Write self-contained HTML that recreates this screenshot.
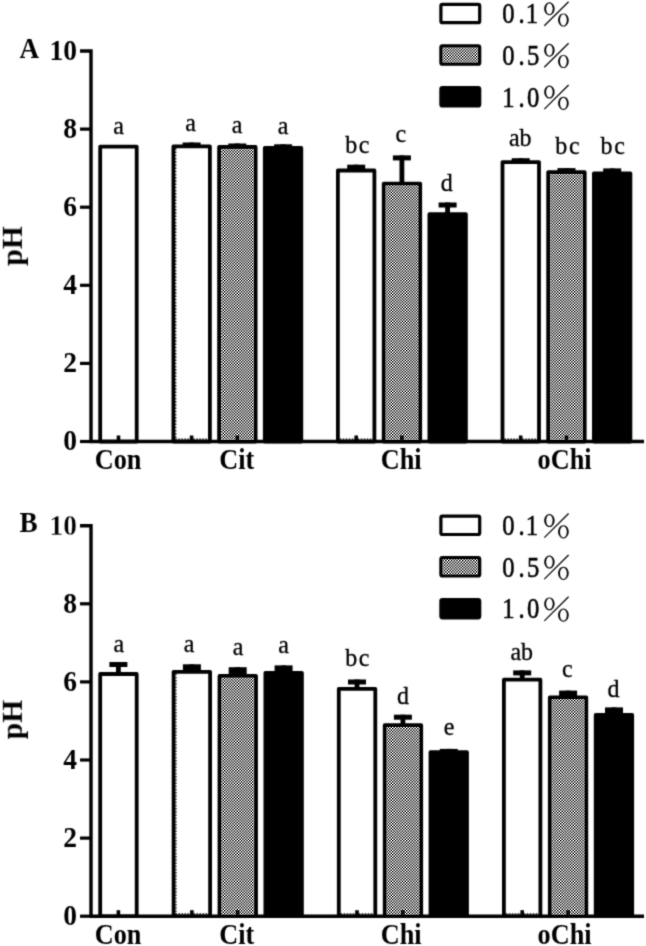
<!DOCTYPE html>
<html><head><meta charset="utf-8"><style>
html,body{margin:0;padding:0;background:#fff;}
svg{filter:grayscale(1);}
svg{display:block;}
text{font-family:"Liberation Serif",serif;fill:#000;}
.tk{font-size:27.5px;font-weight:bold;}
.cat{font-size:26px;font-weight:bold;}
.pl{font-size:28px;font-weight:bold;}
.ph{font-size:29.5px;font-weight:bold;}
.sig{font-size:24px;stroke:#000;stroke-width:0.3px;}
.lg{font-size:28px;stroke:#000;stroke-width:0.55px;}
.pc{font-size:33px;}
</style></head><body>
<svg width="646" height="946" viewBox="0 0 646 946">
<defs>
<filter id="bl" x="0" y="0" width="646" height="946" filterUnits="userSpaceOnUse" color-interpolation-filters="sRGB"><feConvolveMatrix order="3" kernelMatrix="1 4 1 4 16 4 1 4 1" divisor="36" edgeMode="duplicate"/></filter>
<pattern id="pat" width="2.8" height="2.8" patternUnits="userSpaceOnUse">
<rect width="2.8" height="2.8" fill="#f2f2f2"/>
<rect width="1.4" height="1.4" fill="#222"/>
<rect x="1.4" y="1.4" width="1.4" height="1.4" fill="#222"/>
</pattern>
</defs>
<rect width="646" height="946" fill="#fff"/>
<g filter="url(#bl)">
<rect width="646" height="946" fill="#fff"/>
<path d="M80 51.0 H91.0 V441.5 M89.5 441.5 H644" stroke="#000" stroke-width="3.4" fill="none"/>
<line x1="80" y1="441.5" x2="91.0" y2="441.5" stroke="#000" stroke-width="3.2"/>
<line x1="80" y1="363.4" x2="91.0" y2="363.4" stroke="#000" stroke-width="3.2"/>
<line x1="80" y1="285.3" x2="91.0" y2="285.3" stroke="#000" stroke-width="3.2"/>
<line x1="80" y1="207.2" x2="91.0" y2="207.2" stroke="#000" stroke-width="3.2"/>
<line x1="80" y1="129.1" x2="91.0" y2="129.1" stroke="#000" stroke-width="3.2"/>
<text transform="translate(77 450.30) scale(1 1.06)" text-anchor="end" class="tk">0</text>
<text transform="translate(77 372.20) scale(1 1.06)" text-anchor="end" class="tk">2</text>
<text transform="translate(77 294.10) scale(1 1.06)" text-anchor="end" class="tk">4</text>
<text transform="translate(77 216.00) scale(1 1.06)" text-anchor="end" class="tk">6</text>
<text transform="translate(77 137.90) scale(1 1.06)" text-anchor="end" class="tk">8</text>
<text transform="translate(77 59.80) scale(1 1.06)" text-anchor="end" class="tk">10</text>
<rect x="100.2" y="146.6" width="36.5" height="294.9" fill="#fff" stroke="#000" stroke-width="3.8" stroke-linejoin="round"/>
<rect x="116.7" y="435.5" width="3.6" height="6" fill="#000"/>
<rect x="173.4" y="146.4" width="36.5" height="295.1" fill="#fff" stroke="#000" stroke-width="3.8" stroke-linejoin="round"/>
<line x1="175.3" y1="439.1" x2="208.0" y2="439.1" stroke="#000" stroke-width="1.2" stroke-dasharray="1.5 1.5"/>
<line x1="175.8" y1="148.3" x2="175.8" y2="440.0" stroke="#000" stroke-width="1.1" stroke-dasharray="1.6 1.6"/>
<rect x="189.8" y="435.5" width="3.6" height="6" fill="#000"/>
<rect x="182.6" y="142.5" width="18" height="3.0" fill="#000"/>
<rect x="189.2" y="142.5" width="4.8" height="3.9" fill="#000"/>
<rect x="219.1" y="147.0" width="36.5" height="294.5" fill="url(#pat)" stroke="#000" stroke-width="3.8" stroke-linejoin="round"/>
<rect x="235.5" y="435.5" width="3.6" height="6" fill="#000"/>
<rect x="228.3" y="143.5" width="18" height="2.6" fill="#000"/>
<rect x="234.9" y="143.5" width="4.8" height="3.5" fill="#000"/>
<rect x="264.8" y="148.0" width="36.5" height="293.5" fill="#000" stroke="#000" stroke-width="3.8" stroke-linejoin="round"/>
<rect x="281.3" y="435.5" width="3.6" height="6" fill="#000"/>
<rect x="274.1" y="144.3" width="18" height="2.8" fill="#000"/>
<rect x="280.7" y="144.3" width="4.8" height="3.7" fill="#000"/>
<rect x="337.9" y="170.5" width="36.5" height="271.0" fill="#fff" stroke="#000" stroke-width="3.8" stroke-linejoin="round"/>
<line x1="339.8" y1="439.1" x2="372.5" y2="439.1" stroke="#000" stroke-width="1.2" stroke-dasharray="1.5 1.5"/>
<rect x="354.4" y="435.5" width="3.6" height="6" fill="#000"/>
<rect x="347.2" y="164.7" width="18" height="4.9" fill="#000"/>
<rect x="353.8" y="164.7" width="4.8" height="5.8" fill="#000"/>
<rect x="383.7" y="183.6" width="36.5" height="257.9" fill="url(#pat)" stroke="#000" stroke-width="3.8" stroke-linejoin="round"/>
<rect x="400.1" y="435.5" width="3.6" height="6" fill="#000"/>
<rect x="392.9" y="155.4" width="18" height="5.0" fill="#000"/>
<rect x="399.5" y="155.4" width="4.8" height="28.2" fill="#000"/>
<rect x="429.4" y="214.2" width="36.5" height="227.3" fill="#000" stroke="#000" stroke-width="3.8" stroke-linejoin="round"/>
<rect x="445.8" y="435.5" width="3.6" height="6" fill="#000"/>
<rect x="438.6" y="202.5" width="18" height="5.0" fill="#000"/>
<rect x="445.2" y="202.5" width="4.8" height="11.7" fill="#000"/>
<rect x="502.5" y="162.1" width="36.5" height="279.4" fill="#fff" stroke="#000" stroke-width="3.8" stroke-linejoin="round"/>
<line x1="504.4" y1="439.1" x2="537.1" y2="439.1" stroke="#000" stroke-width="1.2" stroke-dasharray="1.5 1.5"/>
<rect x="518.9" y="435.5" width="3.6" height="6" fill="#000"/>
<rect x="511.7" y="158.2" width="18" height="3.0" fill="#000"/>
<rect x="518.3" y="158.2" width="4.8" height="3.9" fill="#000"/>
<rect x="548.2" y="172.1" width="36.5" height="269.4" fill="url(#pat)" stroke="#000" stroke-width="3.8" stroke-linejoin="round"/>
<rect x="564.7" y="435.5" width="3.6" height="6" fill="#000"/>
<rect x="557.5" y="168.1" width="18" height="3.1" fill="#000"/>
<rect x="564.1" y="168.1" width="4.8" height="4.0" fill="#000"/>
<rect x="593.9" y="173.3" width="36.5" height="268.2" fill="#000" stroke="#000" stroke-width="3.8" stroke-linejoin="round"/>
<rect x="610.4" y="435.5" width="3.6" height="6" fill="#000"/>
<rect x="603.2" y="168.4" width="18" height="4.0" fill="#000"/>
<rect x="609.8" y="168.4" width="4.8" height="4.9" fill="#000"/>
<text transform="translate(118.50 133.50) scale(1 1.08)" text-anchor="middle" class="sig">a</text>
<text transform="translate(190.50 130.50) scale(1 1.08)" text-anchor="middle" class="sig">a</text>
<text transform="translate(237.00 132.70) scale(1 1.08)" text-anchor="middle" class="sig">a</text>
<text transform="translate(283.00 134.00) scale(1 1.08)" text-anchor="middle" class="sig">a</text>
<text transform="translate(358.10 153.20) scale(1 1.08)" text-anchor="middle" class="sig" letter-spacing="1.6">bc</text>
<text transform="translate(400.80 141.50) scale(1 1.08)" text-anchor="middle" class="sig">c</text>
<text transform="translate(446.80 190.50) scale(1 1.08)" text-anchor="middle" class="sig">d</text>
<text transform="translate(520.20 146.30) scale(1 1.08)" text-anchor="middle" class="sig">ab</text>
<text transform="translate(568.30 154.20) scale(1 1.08)" text-anchor="middle" class="sig" letter-spacing="1.6">bc</text>
<text transform="translate(613.50 154.20) scale(1 1.08)" text-anchor="middle" class="sig" letter-spacing="1.6">bc</text>
<text transform="translate(94.80 469.30) scale(1.01 1.1)" class="cat">Con</text>
<text transform="translate(219.30 469.30) scale(1.01 1.1)" class="cat">Cit</text>
<text transform="translate(380.80 469.30) scale(1.01 1.1)" class="cat">Chi</text>
<text transform="translate(537.60 469.30) scale(1.01 1.1)" class="cat">oChi</text>
<text transform="translate(19.6 57.90) scale(0.97 1.08)" class="pl">A</text>
<text transform="translate(21.4 265.60) rotate(-90) scale(1 1.02)" class="ph">pH</text>
<rect x="440.9" y="4.4" width="38.8" height="18.3" rx="1.5" fill="#fff" stroke="#000" stroke-width="3.2"/>
<text transform="translate(508.40 23.20) scale(0.88 1.05)" text-anchor="middle" class="lg">0</text>
<text transform="translate(521.50 23.20) scale(0.88 1.05)" text-anchor="middle" class="lg">.</text>
<text transform="translate(531.80 23.20) scale(0.88 1.05)" text-anchor="middle" class="lg">1</text>
<g transform="translate(0 4.0)"><path fill-rule="evenodd" d="M549.4 -1.7 a5.2 6.45 0 1 0 0.01 0 Z M549.4 -0.75 a3.3 5.5 0 1 0 0.01 0 Z"/><path fill-rule="evenodd" d="M563.4 9.4 a5.3 6.6 0 1 0 0.01 0 Z M563.4 10.35 a3.4 5.65 0 1 0 0.01 0 Z"/><line x1="544.3" y1="21.8" x2="568.6" y2="-2.3" stroke="#000" stroke-width="1.25"/></g>
<rect x="440.9" y="45.9" width="38.8" height="18.3" rx="1.5" fill="url(#pat)" stroke="#000" stroke-width="3.2"/>
<text transform="translate(508.40 64.70) scale(0.88 1.05)" text-anchor="middle" class="lg">0</text>
<text transform="translate(521.50 64.70) scale(0.88 1.05)" text-anchor="middle" class="lg">.</text>
<text transform="translate(533.20 64.70) scale(0.88 1.05)" text-anchor="middle" class="lg">5</text>
<g transform="translate(0 45.5)"><path fill-rule="evenodd" d="M549.4 -1.7 a5.2 6.45 0 1 0 0.01 0 Z M549.4 -0.75 a3.3 5.5 0 1 0 0.01 0 Z"/><path fill-rule="evenodd" d="M563.4 9.4 a5.3 6.6 0 1 0 0.01 0 Z M563.4 10.35 a3.4 5.65 0 1 0 0.01 0 Z"/><line x1="544.3" y1="21.8" x2="568.6" y2="-2.3" stroke="#000" stroke-width="1.25"/></g>
<rect x="440.9" y="87.7" width="38.8" height="18.3" rx="1.5" fill="#000" stroke="#000" stroke-width="3.2"/>
<text transform="translate(508.40 106.50) scale(0.88 1.05)" text-anchor="middle" class="lg">1</text>
<text transform="translate(521.50 106.50) scale(0.88 1.05)" text-anchor="middle" class="lg">.</text>
<text transform="translate(533.20 106.50) scale(0.88 1.05)" text-anchor="middle" class="lg">0</text>
<g transform="translate(0 87.3)"><path fill-rule="evenodd" d="M549.4 -1.7 a5.2 6.45 0 1 0 0.01 0 Z M549.4 -0.75 a3.3 5.5 0 1 0 0.01 0 Z"/><path fill-rule="evenodd" d="M563.4 9.4 a5.3 6.6 0 1 0 0.01 0 Z M563.4 10.35 a3.4 5.65 0 1 0 0.01 0 Z"/><line x1="544.3" y1="21.8" x2="568.6" y2="-2.3" stroke="#000" stroke-width="1.25"/></g>
<path d="M80 525.7 H91.0 V916.2 M89.5 916.2 H644" stroke="#000" stroke-width="3.4" fill="none"/>
<line x1="80" y1="916.2" x2="91.0" y2="916.2" stroke="#000" stroke-width="3.2"/>
<line x1="80" y1="838.1" x2="91.0" y2="838.1" stroke="#000" stroke-width="3.2"/>
<line x1="80" y1="760.0" x2="91.0" y2="760.0" stroke="#000" stroke-width="3.2"/>
<line x1="80" y1="681.9" x2="91.0" y2="681.9" stroke="#000" stroke-width="3.2"/>
<line x1="80" y1="603.8" x2="91.0" y2="603.8" stroke="#000" stroke-width="3.2"/>
<text transform="translate(77 925.00) scale(1 1.06)" text-anchor="end" class="tk">0</text>
<text transform="translate(77 846.90) scale(1 1.06)" text-anchor="end" class="tk">2</text>
<text transform="translate(77 768.80) scale(1 1.06)" text-anchor="end" class="tk">4</text>
<text transform="translate(77 690.70) scale(1 1.06)" text-anchor="end" class="tk">6</text>
<text transform="translate(77 612.60) scale(1 1.06)" text-anchor="end" class="tk">8</text>
<text transform="translate(77 534.50) scale(1 1.06)" text-anchor="end" class="tk" style="stroke:#fff;stroke-width:0.3px;paint-order:normal">10</text>
<rect x="100.2" y="674.0" width="36.5" height="242.2" fill="#fff" stroke="#000" stroke-width="3.8" stroke-linejoin="round"/>
<rect x="116.6" y="910.2" width="3.6" height="6" fill="#000"/>
<rect x="109.4" y="662.0" width="18" height="5.0" fill="#000"/>
<rect x="116.0" y="662.0" width="4.8" height="12.0" fill="#000"/>
<rect x="173.6" y="671.8" width="36.5" height="244.4" fill="#fff" stroke="#000" stroke-width="3.8" stroke-linejoin="round"/>
<line x1="175.5" y1="913.8" x2="208.2" y2="913.8" stroke="#000" stroke-width="1.2" stroke-dasharray="1.5 1.5"/>
<line x1="176.0" y1="673.7" x2="176.0" y2="914.7" stroke="#000" stroke-width="1.1" stroke-dasharray="1.6 1.6"/>
<rect x="190.1" y="910.2" width="3.6" height="6" fill="#000"/>
<rect x="182.9" y="664.3" width="18" height="6.6" fill="#000"/>
<rect x="189.5" y="664.3" width="4.8" height="7.5" fill="#000"/>
<rect x="219.5" y="675.9" width="36.5" height="240.3" fill="url(#pat)" stroke="#000" stroke-width="3.8" stroke-linejoin="round"/>
<rect x="235.9" y="910.2" width="3.6" height="6" fill="#000"/>
<rect x="228.7" y="667.2" width="18" height="7.8" fill="#000"/>
<rect x="235.3" y="667.2" width="4.8" height="8.7" fill="#000"/>
<rect x="265.4" y="672.9" width="36.5" height="243.3" fill="#000" stroke="#000" stroke-width="3.8" stroke-linejoin="round"/>
<rect x="281.8" y="910.2" width="3.6" height="6" fill="#000"/>
<rect x="274.6" y="665.4" width="18" height="6.6" fill="#000"/>
<rect x="281.2" y="665.4" width="4.8" height="7.5" fill="#000"/>
<rect x="338.8" y="688.8" width="36.5" height="227.4" fill="#fff" stroke="#000" stroke-width="3.8" stroke-linejoin="round"/>
<line x1="340.7" y1="913.8" x2="373.4" y2="913.8" stroke="#000" stroke-width="1.2" stroke-dasharray="1.5 1.5"/>
<rect x="355.2" y="910.2" width="3.6" height="6" fill="#000"/>
<rect x="348.0" y="679.5" width="18" height="5.0" fill="#000"/>
<rect x="354.6" y="679.5" width="4.8" height="9.3" fill="#000"/>
<rect x="384.7" y="725.2" width="36.5" height="191.0" fill="url(#pat)" stroke="#000" stroke-width="3.8" stroke-linejoin="round"/>
<rect x="401.1" y="910.2" width="3.6" height="6" fill="#000"/>
<rect x="393.9" y="714.7" width="18" height="5.0" fill="#000"/>
<rect x="400.5" y="714.7" width="4.8" height="10.5" fill="#000"/>
<rect x="430.5" y="752.2" width="36.5" height="164.0" fill="#000" stroke="#000" stroke-width="3.8" stroke-linejoin="round"/>
<rect x="447.0" y="910.2" width="3.6" height="6" fill="#000"/>
<rect x="439.8" y="748.9" width="18" height="2.4" fill="#000"/>
<rect x="446.4" y="748.9" width="4.8" height="3.3" fill="#000"/>
<rect x="503.9" y="679.7" width="36.5" height="236.5" fill="#fff" stroke="#000" stroke-width="3.8" stroke-linejoin="round"/>
<line x1="505.8" y1="913.8" x2="538.5" y2="913.8" stroke="#000" stroke-width="1.2" stroke-dasharray="1.5 1.5"/>
<rect x="520.4" y="910.2" width="3.6" height="6" fill="#000"/>
<rect x="513.2" y="670.4" width="18" height="5.0" fill="#000"/>
<rect x="519.8" y="670.4" width="4.8" height="9.3" fill="#000"/>
<rect x="549.8" y="697.4" width="36.5" height="218.8" fill="url(#pat)" stroke="#000" stroke-width="3.8" stroke-linejoin="round"/>
<rect x="566.3" y="910.2" width="3.6" height="6" fill="#000"/>
<rect x="559.1" y="690.6" width="18" height="5.9" fill="#000"/>
<rect x="565.7" y="690.6" width="4.8" height="6.8" fill="#000"/>
<rect x="595.7" y="714.9" width="36.5" height="201.3" fill="#000" stroke="#000" stroke-width="3.8" stroke-linejoin="round"/>
<rect x="612.2" y="910.2" width="3.6" height="6" fill="#000"/>
<rect x="605.0" y="707.4" width="18" height="6.6" fill="#000"/>
<rect x="611.6" y="707.4" width="4.8" height="7.5" fill="#000"/>
<text transform="translate(118.80 651.80) scale(1 1.08)" text-anchor="middle" class="sig">a</text>
<text transform="translate(189.10 651.50) scale(1 1.08)" text-anchor="middle" class="sig">a</text>
<text transform="translate(238.00 654.80) scale(1 1.08)" text-anchor="middle" class="sig">a</text>
<text transform="translate(283.70 652.50) scale(1 1.08)" text-anchor="middle" class="sig">a</text>
<text transform="translate(358.20 666.20) scale(1 1.08)" text-anchor="middle" class="sig" letter-spacing="1.6">bc</text>
<text transform="translate(403.00 703.80) scale(1 1.08)" text-anchor="middle" class="sig">d</text>
<text transform="translate(449.20 735.00) scale(1 1.08)" text-anchor="middle" class="sig">e</text>
<text transform="translate(521.70 659.80) scale(1 1.08)" text-anchor="middle" class="sig">ab</text>
<text transform="translate(567.40 676.60) scale(1 1.08)" text-anchor="middle" class="sig">c</text>
<text transform="translate(613.40 696.80) scale(1 1.08)" text-anchor="middle" class="sig">d</text>
<text transform="translate(94.80 944.00) scale(1.01 1.1)" class="cat">Con</text>
<text transform="translate(219.30 944.00) scale(1.01 1.1)" class="cat">Cit</text>
<text transform="translate(380.80 944.00) scale(1.01 1.1)" class="cat">Chi</text>
<text transform="translate(537.60 944.00) scale(1.01 1.1)" class="cat">oChi</text>
<text transform="translate(19.6 532.30) scale(0.97 1.08)" class="pl">B</text>
<text transform="translate(21.4 739.30) rotate(-90) scale(1 1.02)" class="ph">pH</text>
<rect x="440.9" y="516.2" width="38.8" height="18.3" rx="1.5" fill="#fff" stroke="#000" stroke-width="3.2"/>
<text transform="translate(508.40 535.00) scale(0.88 1.05)" text-anchor="middle" class="lg">0</text>
<text transform="translate(521.50 535.00) scale(0.88 1.05)" text-anchor="middle" class="lg">.</text>
<text transform="translate(531.80 535.00) scale(0.88 1.05)" text-anchor="middle" class="lg">1</text>
<g transform="translate(0 515.8)"><path fill-rule="evenodd" d="M549.4 -1.7 a5.2 6.45 0 1 0 0.01 0 Z M549.4 -0.75 a3.3 5.5 0 1 0 0.01 0 Z"/><path fill-rule="evenodd" d="M563.4 9.4 a5.3 6.6 0 1 0 0.01 0 Z M563.4 10.35 a3.4 5.65 0 1 0 0.01 0 Z"/><line x1="544.3" y1="21.8" x2="568.6" y2="-2.3" stroke="#000" stroke-width="1.25"/></g>
<rect x="440.9" y="557.7" width="38.8" height="18.3" rx="1.5" fill="url(#pat)" stroke="#000" stroke-width="3.2"/>
<text transform="translate(508.40 576.50) scale(0.88 1.05)" text-anchor="middle" class="lg">0</text>
<text transform="translate(521.50 576.50) scale(0.88 1.05)" text-anchor="middle" class="lg">.</text>
<text transform="translate(533.20 576.50) scale(0.88 1.05)" text-anchor="middle" class="lg">5</text>
<g transform="translate(0 557.3)"><path fill-rule="evenodd" d="M549.4 -1.7 a5.2 6.45 0 1 0 0.01 0 Z M549.4 -0.75 a3.3 5.5 0 1 0 0.01 0 Z"/><path fill-rule="evenodd" d="M563.4 9.4 a5.3 6.6 0 1 0 0.01 0 Z M563.4 10.35 a3.4 5.65 0 1 0 0.01 0 Z"/><line x1="544.3" y1="21.8" x2="568.6" y2="-2.3" stroke="#000" stroke-width="1.25"/></g>
<rect x="440.9" y="599.5" width="38.8" height="18.3" rx="1.5" fill="#000" stroke="#000" stroke-width="3.2"/>
<text transform="translate(508.40 618.30) scale(0.88 1.05)" text-anchor="middle" class="lg">1</text>
<text transform="translate(521.50 618.30) scale(0.88 1.05)" text-anchor="middle" class="lg">.</text>
<text transform="translate(533.20 618.30) scale(0.88 1.05)" text-anchor="middle" class="lg">0</text>
<g transform="translate(0 599.1)"><path fill-rule="evenodd" d="M549.4 -1.7 a5.2 6.45 0 1 0 0.01 0 Z M549.4 -0.75 a3.3 5.5 0 1 0 0.01 0 Z"/><path fill-rule="evenodd" d="M563.4 9.4 a5.3 6.6 0 1 0 0.01 0 Z M563.4 10.35 a3.4 5.65 0 1 0 0.01 0 Z"/><line x1="544.3" y1="21.8" x2="568.6" y2="-2.3" stroke="#000" stroke-width="1.25"/></g>
</g>
<rect x="221.0" y="148.9" width="32.7" height="291.0" fill="url(#pat)"/>
<rect x="235.5" y="435.5" width="3.6" height="5" fill="#111"/>
<rect x="385.6" y="185.5" width="32.7" height="254.4" fill="url(#pat)"/>
<rect x="400.1" y="435.5" width="3.6" height="5" fill="#111"/>
<rect x="550.1" y="174.0" width="32.7" height="265.9" fill="url(#pat)"/>
<rect x="564.7" y="435.5" width="3.6" height="5" fill="#111"/>
<rect x="442.7" y="47.7" width="35.2" height="14.7" fill="url(#pat)"/>
<rect x="221.4" y="677.8" width="32.7" height="236.8" fill="url(#pat)"/>
<rect x="235.9" y="910.2" width="3.6" height="5" fill="#111"/>
<rect x="386.6" y="727.1" width="32.7" height="187.5" fill="url(#pat)"/>
<rect x="401.1" y="910.2" width="3.6" height="5" fill="#111"/>
<rect x="551.7" y="699.3" width="32.7" height="215.3" fill="url(#pat)"/>
<rect x="566.3" y="910.2" width="3.6" height="5" fill="#111"/>
<rect x="442.7" y="559.5" width="35.2" height="14.7" fill="url(#pat)"/>
</svg>
</body></html>
